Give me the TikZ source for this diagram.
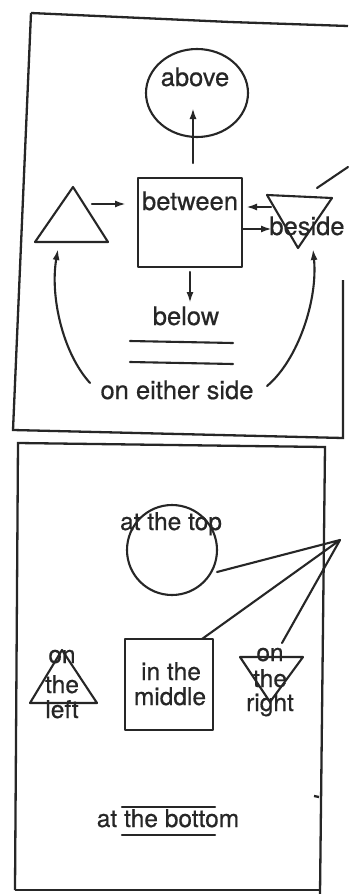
\documentclass[tikz,border=0pt]{standalone}
\usepackage{fontspec}
\setmainfont[FakeBold=0.5]{TeX Gyre Heros}
\usetikzlibrary{arrows.meta,shapes.geometric}
\definecolor{ink}{HTML}{262626}
\tikzset{
  pen/.style={draw=ink, line width=2.1pt, line join=round, line cap=round},
  frame/.style={draw=ink, line width=2.3pt, line join=miter},
  arr/.style={pen, -{Latex[length=11pt,width=7pt]}},
  lbl/.style={text=ink, inner sep=0pt, anchor=base, font=\fontsize{25.5}{27}\selectfont},
  lblb/.style={text=ink, inner sep=0pt, anchor=base, font=\fontsize{24.5}{26}\selectfont},
  boxshape/.style={pen, rectangle, inner sep=0pt},
  roundshape/.style={pen, ellipse, inner sep=0pt}
}
\begin{document}
\begin{tikzpicture}[x=1pt,y=-1pt]
\useasboundingbox (0,0) rectangle (348,894);
\fill[white] (0,0) rectangle (348,894);

% ---------------- top panel ----------------
\draw[frame] (31,13) -- (230,22) -- (348,26);
\draw[frame] (31,13) -- (13,430) -- (343,438) -- (343,280);

\node[roundshape, minimum width=102pt, minimum height=88pt] (abovec) at (197,93) {};
\node[lbl] (abovet) at (195,86) {above};

\node[boxshape, minimum width=104pt, minimum height=89pt] (betw) at (190,222.5) {};
\node[lbl] (betwt) at (190,210) {between};

\coordinate (lt1) at (35,242); \coordinate (lt2) at (73,187); \coordinate (lt3) at (108,242);
\draw[pen] (lt1) -- (lt2) -- (lt3) -- cycle;

\coordinate (rt1) at (267,195); \coordinate (rt2) at (332,198); \coordinate (rt3) at (298,248);
\draw[pen] (rt1) -- (rt2) -- (rt3) -- cycle;
\node[lbl] (beside) at (307,235) {beside};

\node[lbl] (below) at (186,325) {below};
\node[lbl] (either) at (177,399) {on either side};

% arrows
\coordinate (a1s) at (193,163); \coordinate (a1e) at (193,108);
\draw[arr] (a1s) -- (a1e);
\coordinate (a2s) at (92,204); \coordinate (a2e) at (126,204);
\draw[arr] (a2s) -- (a2e);
\coordinate (a3s) at (271,207); \coordinate (a3e) at (246,207);
\draw[arr] (a3s) -- (a3e);
\coordinate (a4s) at (243,229); \coordinate (a4e) at (272,229);
\draw[arr] (a4s) -- (a4e);
\coordinate (a5s) at (190,272); \coordinate (a5e) at (190,303);
\draw[arr] (a5s) -- (a5e);

\coordinate (pl1) at (317,188); \coordinate (pl2) at (348,167);
\draw[pen] (pl1) -- (pl2);

\coordinate (u1a) at (130,341); \coordinate (u1b) at (233,343);
\coordinate (u2a) at (130,362); \coordinate (u2b) at (233,364);
\draw[pen] (u1a) -- (u1b);
\draw[pen] (u2a) -- (u2b);

\coordinate (cl1) at (90,383); \coordinate (cl2) at (58,249);
\draw[arr] (cl1) .. controls (62,352) and (50,295) .. (cl2);
\coordinate (cr1) at (267,386); \coordinate (cr2) at (313,249);
\draw[arr] (cr1) .. controls (298,360) and (318,300) .. (cr2);

% ---------------- bottom panel ----------------
\draw[frame] (15,890) -- (18,443) -- (325,447) -- (320,894);
\draw[frame] (15,890) -- (320,890);
\draw[frame] (314,796) -- (319,797);

\node[roundshape, minimum width=90pt, minimum height=90pt] (topc) at (172,550) {};
\node[lblb] (topt) at (171,530) {at the top};

\node[boxshape, minimum width=88pt, minimum height=91pt] (mid) at (169,684.5) {};
\node[lblb] (midt1) at (171,680) {in the};
\node[lblb] (midt2) at (170,705) {middle};

\coordinate (bl1) at (30,703); \coordinate (bl2) at (62,650); \coordinate (bl3) at (97,703);
\draw[pen] (bl1) -- (bl2) -- (bl3) -- cycle;
\node[lblb] (lon) at (62,663) {on};
\node[lblb] (lthe) at (62,693) {the};
\node[lblb] (lleft) at (62,718) {left};

\coordinate (br1) at (240,657); \coordinate (br2) at (303,657); \coordinate (br3) at (270,702);
\draw[pen] (br1) -- (br2) -- (br3) -- cycle;
\node[lblb] (ron) at (270,661) {on};
\node[lblb] (rthe) at (270,687) {the};
\node[lblb] (rright) at (270,711) {right};

\coordinate (focus) at (340,540);
\coordinate (f1) at (217,572); \coordinate (f2) at (202,639); \coordinate (f3) at (282,643);
\draw[pen] (f1) -- (focus) -- (f2);
\draw[pen] (focus) -- (f3);

\node[lblb] (bott) at (168,827) {at the bottom};
\coordinate (b1a) at (122,807); \coordinate (b1b) at (215,807);
\coordinate (b2a) at (122,835); \coordinate (b2b) at (215,835);
\draw[pen] (b1a) -- (b1b);
\draw[pen] (b2a) -- (b2b);
\end{tikzpicture}
\end{document}
